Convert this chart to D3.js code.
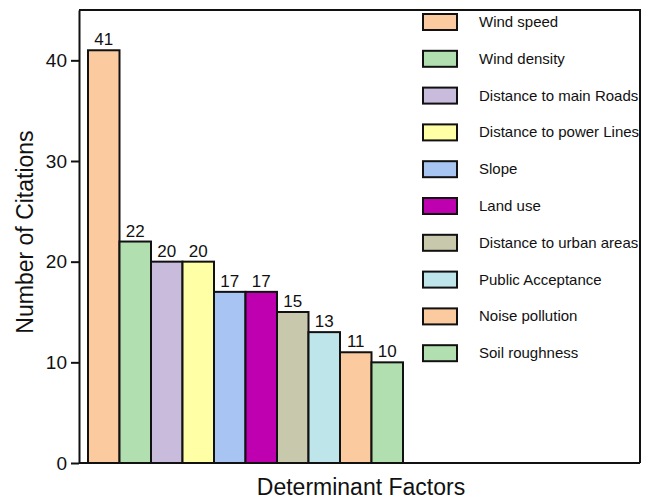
<!DOCTYPE html>
<html>
<head>
<meta charset="utf-8">
<script src="https://cdn.jsdelivr.net/npm/d3@7"></script>
<style>
    body { margin: 0; background: #fff; }
    svg text { font-family: "Liberation Sans", Arial, sans-serif; fill: #111; }
</style>
</head>
<body>
<div id="chart"></div>
<script>

// data
const factors = ["Wind speed", "Wind density", "Distance to main Roads", "Distance to power Lines",
    "Slope", "Land use", "Distance to urban areas", "Public Acceptance", "Noise pollution", "Soil roughness"];
const citations = [41, 22, 20, 20, 17, 17, 15, 13, 11, 10];
const colors = ["#FBCB9F", "#B2DFB0", "#C8BBDB", "#FFFFA6", "#A8C4F2",
    "#BF00B0", "#C8C8AC", "#BDE5EA", "#FBCB9F", "#B2DFB0"];
const yTicks = [0, 10, 20, 30, 40];

const totalW = 651, totalH = 501;
const margin = {top: 10, right: 11, bottom: 38, left: 79};
const width = totalW - margin.left - margin.right;
const height = totalH - margin.top - margin.bottom;

const svg = d3.select("#chart").append("svg")
    .attr("width", totalW)
    .attr("height", totalH);

const g = svg.append("g")
    .attr("transform", `translate(${margin.left}, ${margin.top})`);

// scales - bars only use the left part, legend sits on the right
const x = d3.scaleBand()
    .domain(factors)
    .range([9, 324])
    .padding(0);

const y = d3.scaleLinear()
    .domain([0, 45])
    .range([height, 0]);

// frame (top + right)
g.append("path")
    .attr("d", `M0,0H${width}V${height}`)
    .attr("fill", "none")
    .attr("stroke", "#111")
    .attr("stroke-width", 2);

// bars
g.selectAll(".bar")
    .data(factors)
    .enter().append("rect")
    .attr("class", "bar")
    .attr("x", d => x(d))
    .attr("width", x.bandwidth())
    .attr("y", (d, i) => y(citations[i]))
    .attr("height", (d, i) => height - y(citations[i]))
    .attr("fill", (d, i) => colors[i])
    .attr("stroke", "#111")
    .attr("stroke-width", 2);

// value labels
g.selectAll(".val")
    .data(factors)
    .enter().append("text")
    .attr("class", "val")
    .attr("x", d => x(d) + x.bandwidth() / 2)
    .attr("y", (d, i) => y(citations[i]) - 5)
    .attr("text-anchor", "middle")
    .style("font-size", "17px")
    .text((d, i) => citations[i]);

// axes
const yAxis = d3.axisLeft(y)
    .tickValues(yTicks)
    .tickSize(8)
    .tickPadding(4)
    .tickSizeOuter(0);

const yG = g.append("g")
    .attr("class", "y-axis")
    .call(yAxis);
yG.select(".domain").attr("stroke", "#111").attr("stroke-width", 2);
yG.selectAll(".tick line").attr("stroke", "#111").attr("stroke-width", 2);
yG.selectAll(".tick text")
    .style("font-size", "19px")
    .style("font-family", "'Liberation Sans', Arial, sans-serif")
    .attr("fill", "#111");

const xAxis = d3.axisBottom(x).tickSize(0).tickSizeOuter(0).tickFormat("");
const xG = g.append("g")
    .attr("class", "x-axis")
    .attr("transform", `translate(0, ${height})`)
    .call(xAxis);
xG.select(".domain")
    .attr("d", `M0,0H${width}`)
    .attr("stroke", "#111")
    .attr("stroke-width", 2);

// axis titles
svg.append("text")
    .attr("transform", `translate(33, 232) rotate(-90)`)
    .attr("text-anchor", "middle")
    .style("font-size", "23px")
    .text("Number of Citations");

svg.append("text")
    .attr("x", 361)
    .attr("y", 495)
    .attr("text-anchor", "middle")
    .style("font-size", "23px")
    .text("Determinant Factors");

// legend
const legend = g.selectAll(".legend")
    .data(factors)
    .enter().append("g")
    .attr("class", "legend")
    .attr("transform", (d, i) => `translate(344, ${12 + i * 36.8})`);

legend.append("rect")
    .attr("x", 0)
    .attr("y", -8)
    .attr("width", 34)
    .attr("height", 16)
    .attr("fill", (d, i) => colors[i])
    .attr("stroke", "#111")
    .attr("stroke-width", 2);

legend.append("text")
    .attr("x", 56)
    .attr("y", 5)
    .style("font-size", "15px")
    .text(d => d);

</script>
</body>
</html>
